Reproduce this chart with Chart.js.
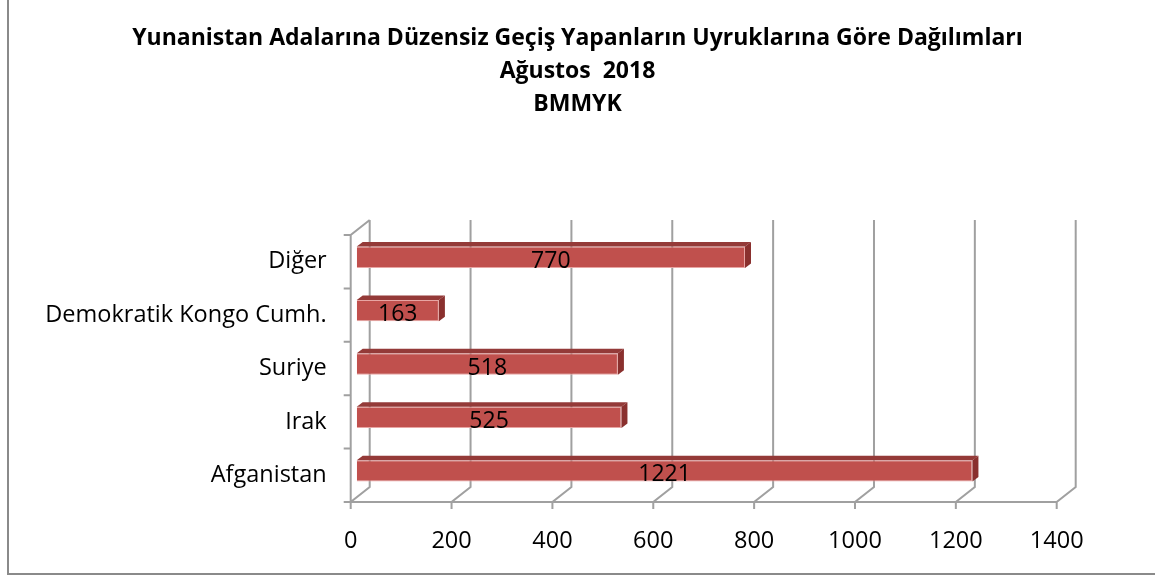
<!DOCTYPE html>
<html>
<head>
<meta charset="utf-8">
<script src="https://cdn.jsdelivr.net/npm/chart.js@4"></script>
<style>
html,body{margin:0;padding:0;background:#fff;}
#wrap{position:relative;width:1155px;height:579px;}
</style>
</head>
<body>
<div id="wrap"><canvas id="c" width="1155" height="579"></canvas></div>
<script>
const titleLines = ["Yunanistan Adalarına Düzensiz Geçiş Yapanların Uyruklarına Göre Dağılımları", "Ağustos  2018", "BMMYK"];
const categories = ["Diğer", "Demokratik Kongo Cumh.", "Suriye", "Irak", "Afganistan"];
const values = [770, 163, 518, 525, 1221];
const xTicks = [0, 200, 400, 600, 800, 1000, 1200, 1400];

const FONT = "'Open Sans', 'Noto Sans', sans-serif";
const DEPTH_X = 19, DEPTH_Y = -15;   // full depth of the 3D box
const FRONT_X = 6, FRONT_Y = -4.5;   // bars' front face offset from the front plane
const BAR_D_X = 6, BAR_D_Y = -4.5;   // bar depth
const PX_PER_UNIT = 706 / 1400;
const AREA_LEFT = 356.7;
const SCALE_MAX = (1155 - AREA_LEFT) / PX_PER_UNIT; // axis extends to canvas edge; ticks stop at 1400

const threeD = {
  id: 'threeD',
  beforeDraw(chart) {
    const ctx = chart.ctx;
    ctx.save();
    ctx.strokeStyle = '#8a8a8a';
    ctx.lineWidth = 2;
    ctx.beginPath();
    ctx.moveTo(8, 0); ctx.lineTo(8, 574);
    ctx.lineTo(1155, 574);
    ctx.stroke();
    ctx.restore();
  },
  beforeDatasetsDraw(chart) {
    const ctx = chart.ctx, xs = chart.scales.x, ca = chart.chartArea;
    const fb = ca.bottom - FRONT_Y, ft = ca.top - FRONT_Y;
    const bb = fb + DEPTH_Y, bt = ft + DEPTH_Y;
    ctx.save();
    ctx.strokeStyle = '#a0a0a0';
    ctx.lineWidth = 2;
    ctx.beginPath();
    xTicks.forEach(v => {
      const xf = xs.getPixelForValue(v) - FRONT_X;
      ctx.moveTo(xf + DEPTH_X, bt); ctx.lineTo(xf + DEPTH_X, bb);
      ctx.lineTo(xf, fb); ctx.lineTo(xf, fb + 7);
    });
    const x0 = xs.getPixelForValue(0) - FRONT_X;
    const x1 = xs.getPixelForValue(xTicks[xTicks.length - 1]) - FRONT_X;
    ctx.moveTo(x0, fb); ctx.lineTo(x1, fb);
    ctx.moveTo(x0 + DEPTH_X, bt); ctx.lineTo(x0, ft); ctx.lineTo(x0, fb);
    const n = categories.length;
    for (let k = 0; k <= n; k++) {
      const y = ft + (fb - ft) * k / n;
      ctx.moveTo(x0 - 7, y); ctx.lineTo(x0, y);
    }
    ctx.stroke();
    ctx.restore();
  },
  afterDatasetsDraw(chart) {
    const ctx = chart.ctx;
    const meta = chart.getDatasetMeta(0);
    ctx.save();
    meta.data.forEach((bar, i) => {
      const p = bar.getProps(['x', 'y', 'base', 'height'], true);
      const top = p.y - p.height / 2, bot = p.y + p.height / 2;
      ctx.fillStyle = '#943a38';
      ctx.beginPath();
      ctx.moveTo(p.base, top); ctx.lineTo(p.base + BAR_D_X, top + BAR_D_Y);
      ctx.lineTo(p.x + BAR_D_X, top + BAR_D_Y); ctx.lineTo(p.x, top);
      ctx.closePath(); ctx.fill();
      ctx.fillStyle = '#8a302e';
      ctx.beginPath();
      ctx.moveTo(p.x, top); ctx.lineTo(p.x + BAR_D_X, top + BAR_D_Y);
      ctx.lineTo(p.x + BAR_D_X, bot + BAR_D_Y); ctx.lineTo(p.x, bot);
      ctx.closePath(); ctx.fill();
      ctx.fillStyle = '#000';
      ctx.font = '23px ' + FONT;
      ctx.textAlign = 'center';
      ctx.textBaseline = 'middle';
      ctx.fillText(String(values[i]), (p.base + p.x) / 2, p.y + 4);
    });
    ctx.restore();
  }
};

new Chart(document.getElementById('c'), {
  type: 'bar',
  data: {
    labels: categories,
    datasets: [{
      data: values,
      backgroundColor: '#c0504d',
      borderColor: '#e8a5a3',
      borderWidth: 1,
      barPercentage: 0.4,
      categoryPercentage: 1.0
    }]
  },
  options: {
    indexAxis: 'y',
    responsive: false,
    animation: false,
    layout: { padding: { left: 0, right: 0, top: 0, bottom: 21.5 } },
    plugins: {
      legend: { display: false },
      tooltip: { enabled: false },
      title: {
        display: true,
        text: titleLines,
        color: '#000',
        font: { family: FONT, size: 23, weight: 'bold', lineHeight: 1.44 },
        padding: { top: 22, bottom: 109.2 }
      }
    },
    scales: {
      x: {
        min: 0, max: SCALE_MAX,
        afterBuildTicks(scale) { scale.ticks = xTicks.map(v => ({ value: v })); },
        afterFit(scale) { scale.height = 60; },
        grid: { display: false, drawTicks: false },
        border: { display: false },
        ticks: {
          color: '#000', font: { family: FONT, size: 23.5 }, padding: 30, labelOffset: -FRONT_X,
          callback: v => String(v)
        }
      },
      y: {
        afterFit(scale) { scale.width = AREA_LEFT; },
        grid: { display: false, drawTicks: false },
        border: { display: false },
        ticks: { color: '#000', font: { family: FONT, size: 23.5 }, padding: 30, labelOffset: -FRONT_Y }
      }
    }
  },
  plugins: [threeD]
});
</script>
</body>
</html>
